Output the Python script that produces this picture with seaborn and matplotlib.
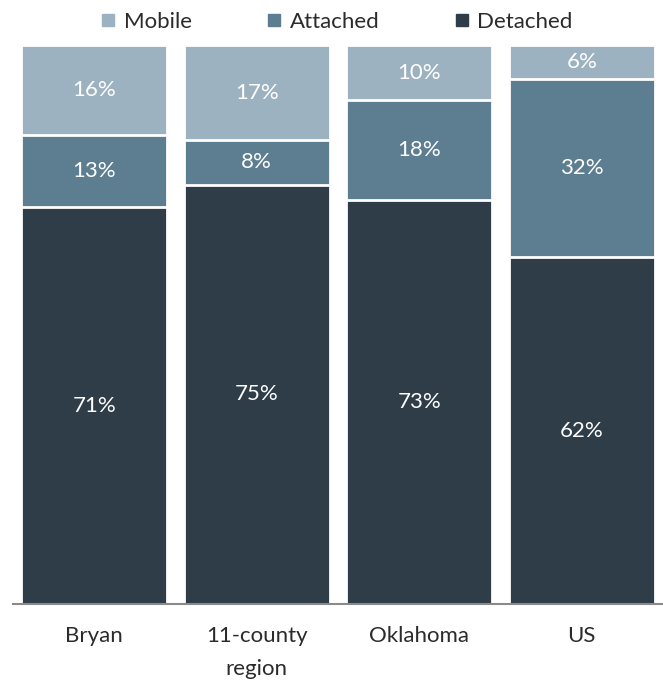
import numpy as np
import pandas as pd
import matplotlib
matplotlib.use('agg')
import matplotlib.pyplot as plt
from matplotlib.lines import Line2D
import seaborn as sns

regions = ['Bryan', '11-county\nregion', 'Oklahoma', 'US']
detached = [71, 75, 73, 62]
attached = [13, 8, 18, 32]
mobile = [16, 17, 10, 6]

colors = {'Mobile': '#9db2c0', 'Attached': '#5d7e90', 'Detached': '#2e3d48'}

sns.set_style('white')
plt.rcParams['font.family'] = ['Lato', 'DejaVu Sans']

df = pd.DataFrame({'region': regions, 'Detached': detached,
                   'Attached': attached, 'Mobile': mobile})
total = df[['Detached', 'Attached', 'Mobile']].sum(axis=1)
# shares normalised to 100% per bar
share = df[['Detached', 'Attached', 'Mobile']].div(total, axis=0) * 100
share['region'] = regions
share['cum_det'] = share['Detached']
share['cum_att'] = share['Detached'] + share['Attached']
share['cum_mob'] = share['cum_att'] + share['Mobile']

fig = plt.figure(figsize=(6.63, 6.83), dpi=100)
ax = fig.add_axes([0.0196, 0.1157, 0.9804, 0.8183])

# stacked bars drawn by overlaying cumulative totals
for col, name in [('cum_mob', 'Mobile'), ('cum_att', 'Attached'), ('cum_det', 'Detached')]:
    sns.barplot(data=share, x='region', y=col, color=colors[name], width=0.9,
                edgecolor='white', linewidth=2, saturation=1, ax=ax)

for i in range(len(regions)):
    base = 0
    for name in ['Detached', 'Attached', 'Mobile']:
        h = share.loc[i, name]
        ax.text(i, base + h / 2, f'{df.loc[i, name]}%', ha='center', va='center',
                color='white', fontsize=16)
        base += h

ax.set_ylim(0, 100)
ax.set_xlim(-0.5, 3.5)
ax.set_xlabel('')
ax.set_ylabel('')
ax.set_yticks([])
for s in ['top', 'right', 'left']:
    ax.spines[s].set_visible(False)
ax.spines['bottom'].set_color('#8a8a8a')
ax.spines['bottom'].set_linewidth(1.5)
ax.tick_params(axis='x', length=0, pad=16, labelsize=16, labelcolor='#2b2b2b')
for lbl in ax.get_xticklabels():
    lbl.set_verticalalignment('top')
    lbl.set_linespacing(1.8)

handles = [Line2D([0], [0], marker='s', linestyle='', markersize=8,
                  color=colors[n]) for n in ['Mobile', 'Attached', 'Detached']]
fig.legend(handles, ['Mobile', 'Attached', 'Detached'], loc='center',
           bbox_to_anchor=(0.507, 0.968), ncol=3, frameon=False,
           prop={'size': 16}, handlelength=0.8,
           handletextpad=0.3, columnspacing=3.3, labelcolor='#2b2b2b')

fig.savefig('out.png', dpi=100)
